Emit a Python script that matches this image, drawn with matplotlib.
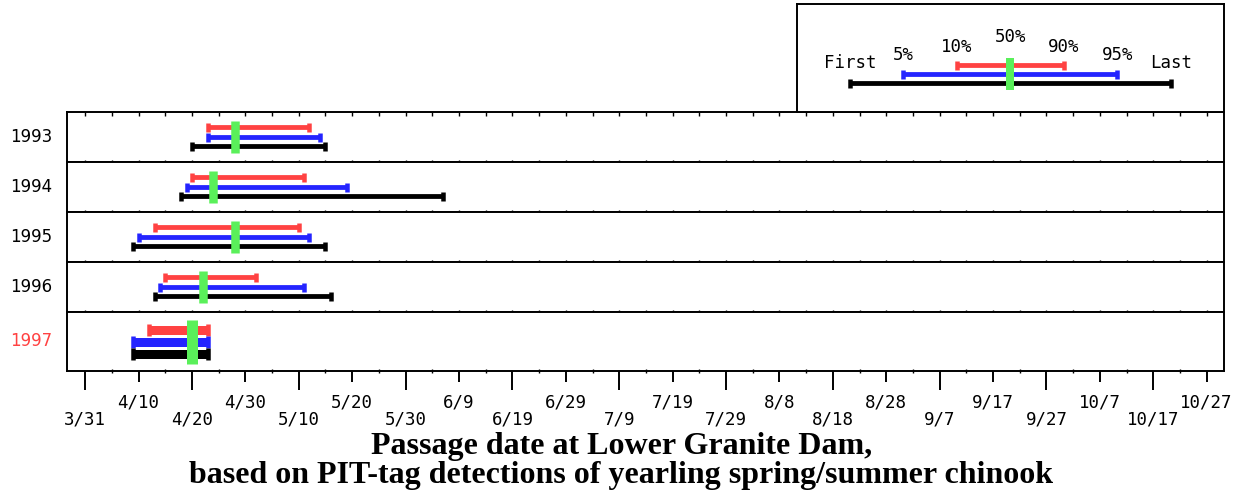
import numpy as np
import pandas as pd
import matplotlib
matplotlib.use("Agg")
import matplotlib.pyplot as plt

# passage dates (month/day) at Lower Granite Dam
years = ["1993", "1994", "1995", "1996", "1997"]
first = ["4/20", "4/18", "4/9", "4/13", "4/9"]
p05 = ["4/23", "4/19", "4/10", "4/14", "4/9"]
p10 = ["4/23", "4/20", "4/13", "4/15", "4/12"]
p50 = ["4/28", "4/24", "4/28", "4/22", "4/20"]
p90 = ["5/12", "5/11", "5/10", "5/2", "4/23"]
p95 = ["5/14", "5/19", "5/12", "5/11", "4/23"]
last = ["5/15", "6/6", "5/15", "5/16", "4/23"]

labels_low = ["3/31", "4/20", "5/10", "5/30", "6/19", "7/9", "7/29",
              "8/18", "9/7", "9/27", "10/17"]
labels_high = ["4/10", "4/30", "5/20", "6/9", "6/29", "7/19", "8/8",
               "8/28", "9/17", "10/7", "10/27"]

legend_keys = ["First", "5%", "10%", "50%", "90%", "95%", "Last"]

RED = "#ff4242"
BLUE = "#2424ff"
GREEN = "#5af05a"
PT = 0.72  # points per pixel at dpi 100
MONO = "DejaVu Sans Mono"


def day(s):
    # days after 3/31
    return (pd.to_datetime("2001/" + s) - pd.Timestamp("2001-03-31")).days


def days(lst):
    return np.array([day(s) for s in lst])


d_first, d05, d10, d50 = days(first), days(p05), days(p10), days(p50)
d90, d95, d_last = days(p90), days(p95), days(last)

W, H = 1243, 493
fig = plt.figure(figsize=(W / 100, H / 100), dpi=100)

heights = [50, 50, 50, 50, 59.3]
gs = fig.add_gridspec(5, 1, height_ratios=heights, hspace=0,
                      left=67 / W, right=1224.3 / W,
                      top=1 - 111.7 / H, bottom=1 - 371 / H)


def span(ax, x0, x1, y, color, lw, cap_h, cap_w):
    ax.hlines(y, x0, x1, color=color, lw=lw * PT)
    ax.plot([x0, x1], [y, y], ls="none", marker="|", ms=cap_h * PT,
            mew=cap_w * PT, color=color)


all5 = np.arange(0, 215, 5)
axes = []
for i, yr in enumerate(years):
    ax = fig.add_subplot(gs[i])
    axes.append(ax)
    h = heights[i]
    ax.set_xlim(-3.4, 213.3)
    ax.set_ylim(h, 0)
    ax.set_yticks([])
    for s in ax.spines.values():
        s.set_linewidth(1.4)

    if i < 4:
        yr_off = [15.6, 25, 34]
        g0, g1 = 9, 41
        lw, ch, cw, gw = 4.8, 9, 4.5, 8.5
    else:
        yr_off = [18.3, 30, 42]
        g0, g1 = 8.3, 52.3
        lw, ch, cw, gw = 9, 12.5, 4.5, 11
    span(ax, d10[i], d90[i], yr_off[0], RED, lw, ch, cw)
    span(ax, d05[i], d95[i], yr_off[1], BLUE, lw, ch, cw)
    span(ax, d_first[i], d_last[i], yr_off[2], "black", lw, ch, cw)
    ax.vlines(d50[i], g0, g1, color=GREEN, lw=gw * PT)

    ax.text(-14.7 / 1157.3, 0.5, yr, transform=ax.transAxes, ha="right",
            va="center", fontsize=12, family="DejaVu Sans",
            color=RED if i == 4 else "black")

    if i < 4:
        ax.set_xticks(all5)
        ax.tick_params(axis="x", direction="inout", length=5 * PT,
                       width=1.0, labelbottom=False)
    if i == 0:
        top = ax.secondary_xaxis("top")
        top.set_xticks(all5)
        top.tick_params(direction="in", length=3.5 * PT, width=1.0,
                        labeltop=False)
        top.spines["top"].set_visible(False)

# bottom axis: long ticks + low labels, medium ticks + high labels
ax = axes[-1]
ax.set_xticks(days(labels_low), labels=labels_low)
ax.set_xticks(days(labels_high), labels=labels_high, minor=True)
ax.tick_params(axis="x", which="major", direction="out", length=19 * PT,
               width=1.4, pad=14.8, labelsize=12.5)
ax.tick_params(axis="x", which="minor", direction="out", length=10.7 * PT,
               width=1.4, pad=8.6, labelsize=12.5)
for lab in ax.get_xticklabels(which="both"):
    lab.set_family(MONO)
small = ax.secondary_xaxis("bottom")
small.set_xticks(np.arange(5, 215, 10))
small.tick_params(direction="inout", length=5 * PT, width=1.0,
                  labelbottom=False)
small.spines["bottom"].set_visible(False)

# key box
lg = fig.add_axes([797 / W, 1 - 111.7 / H, (1224.3 - 797) / W, (111.7 - 4) / H])
lg.set_xlim(-0.99, 7.0)
lg.set_ylim(107.7, 0)
lg.set_xticks([])
lg.set_yticks([])
for s in lg.spines.values():
    s.set_linewidth(1.4)
kx = np.arange(len(legend_keys))
span(lg, kx[2], kx[4], 61, RED, 4.8, 9, 4.5)
span(lg, kx[1], kx[5], 70.3, BLUE, 4.8, 9, 4.5)
span(lg, kx[0], kx[6], 78.7, "black", 4.8, 9, 4.5)
lg.vlines(kx[3], 54.3, 86, color=GREEN, lw=8 * PT)
key_y = [59.3, 51, 42.7, 32.7, 42.7, 51, 59.3]
for x, name, y in zip(kx, legend_keys, key_y):
    lg.text(x, y, name, ha="center", va="center", fontsize=12.5, family=MONO)

fig.text(0.5, 1 - 454 / H, "Passage date at Lower Granite Dam,",
         ha="center", va="baseline", fontsize=23, weight="bold",
         family="Liberation Serif")
fig.text(0.5, 1 - 483 / H,
         "based on PIT-tag detections of yearling spring/summer chinook",
         ha="center", va="baseline", fontsize=23, weight="bold",
         family="Liberation Serif")

fig.savefig("out.png", dpi=100)
